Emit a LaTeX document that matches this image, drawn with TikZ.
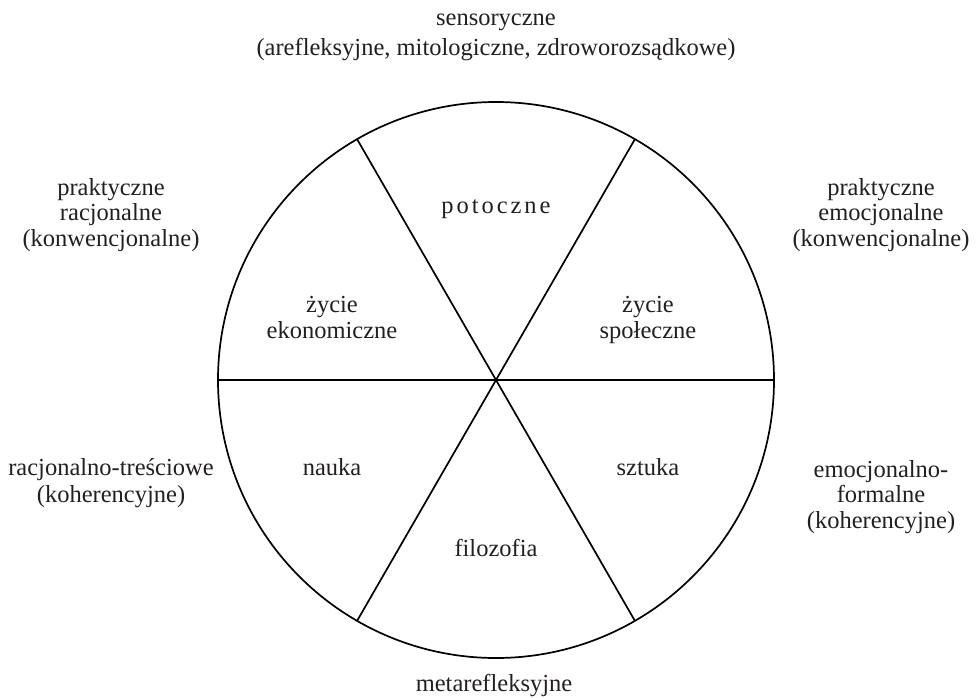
\documentclass[tikz,border=0pt]{standalone}
\usepackage{fontspec}
\setmainfont{Liberation Serif}
\newfontfamily\spacedfont[LetterSpace=12]{Liberation Serif}
\definecolor{ink}{HTML}{231F20}
\begin{document}
\begin{tikzpicture}[x=1pt,y=-1pt,
  lbl/.style={inner sep=0pt,align=center,text=ink,font=\fontsize{24.5}{25.5}\selectfont,anchor=base},
  ln/.style={line width=1.7pt,draw=black}]
\useasboundingbox (0,0) rectangle (980,697);
\coordinate (c) at (496,380);
\draw[ln] (c) circle[radius=278];
\coordinate (pl) at (218,380);
\coordinate (pr) at (774,380);
\coordinate (tl) at (357,139);
\coordinate (tr) at (635,139);
\coordinate (bl) at (357,621);
\coordinate (br) at (635,621);
\draw[ln] (pl) -- (pr);
\draw[ln] (tl) -- (br);
\draw[ln] (tr) -- (bl);
\node[lbl] (sens) at (496,55) {sensoryczne\\[4.5pt](arefleksyjne, mitologiczne, zdroworozsądkowe)};
\node[lbl] (pr1) at (111,246) {praktyczne\\racjonalne\\(konwencjonalne)};
\node[lbl] (pr2) at (881,246) {praktyczne\\emocjonalne\\(konwencjonalne)};
\node[lbl,font=\spacedfont\fontsize{24.5}{25.5}\selectfont] (pot) at (496,213) {potoczne};
\node[lbl] (zek) at (332,338) {życie\\ekonomiczne};
\node[lbl] (zsp) at (648,338) {życie\\społeczne};
\node[lbl] (nau) at (332,475) {nauka};
\node[lbl] (szt) at (648,475) {sztuka};
\node[lbl] (fil) at (496,556) {filozofia};
\node[lbl] (rt) at (111,502) {racjonalno-treściowe\\[1.5pt](koherencyjne)};
\node[lbl] (ef) at (881,528) {emocjonalno-\\formalne\\(koherencyjne)};
\node[lbl] (meta) at (494,691) {metarefleksyjne};
\end{tikzpicture}
\end{document}
